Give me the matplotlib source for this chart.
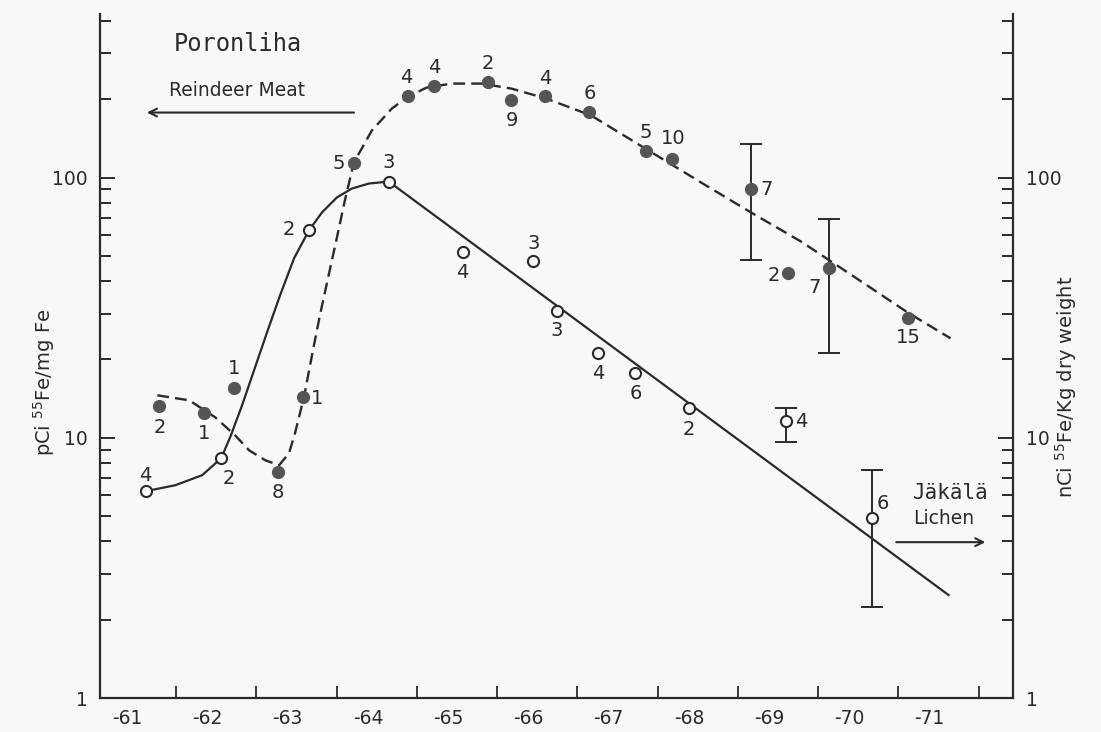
import matplotlib
matplotlib.use("Agg")
import matplotlib.pyplot as plt
from matplotlib.ticker import LogLocator, NullFormatter, FixedLocator

# ---------------- data ----------------
year_labels = ['-61', '-62', '-63', '-64', '-65', '-66', '-67', '-68', '-69', '-70', '-71']
year_label_pos = [61.39, 62.39, 63.39, 64.39, 65.39, 66.39, 67.39, 68.39, 69.39, 70.39, 71.39]
year_ticks = [62, 63, 64, 65, 66, 67, 68, 69, 70, 71, 72]

# Reindeer meat (filled circles), pCi 55Fe / mg Fe
meat_x = [61.79, 62.35, 62.72, 63.27, 63.58, 64.21, 64.89, 65.21, 65.89, 66.17,
          66.60, 67.14, 67.85, 68.18, 69.17, 69.63, 70.14, 71.12]
meat_y = [13.3, 12.4, 15.6, 7.4, 14.3, 114, 205, 224, 232, 198,
          205, 179, 127, 118, 90.7, 42.8, 44.8, 28.8]
meat_n = ['2', '1', '1', '8', '1', '5', '4', '4', '2', '9',
          '4', '6', '5', '10', '7', '2', '7', '15']
meat_err_x = [69.17, 70.14]
meat_err_mid = [90.7, 44.8]
meat_err_lo = [48.0, 21.1]
meat_err_hi = [135.0, 69.0]

# Reindeer meat fitted curve (dashed)
meat_curve_x = [61.764, 62.162, 62.485, 62.734, 62.908, 63.108, 63.282, 63.406, 63.480,
                63.592, 63.692, 63.791, 63.891, 63.990, 64.102, 64.214, 64.438, 64.687,
                64.886, 65.122, 65.433, 65.806, 66.179, 66.614, 67.174, 67.846, 68.542,
                69.164, 69.786, 70.408, 71.117, 71.652]
meat_curve_y = [14.56, 13.93, 11.99, 10.22, 8.95, 8.20, 7.84, 8.72, 10.40,
                14.31, 20.74, 29.53, 40.96, 56.30, 81.61, 114.2, 151.5, 184.0,
                204.6, 221.6, 229.6, 229.6, 219.6, 201.1, 173.0, 129.3, 95.7,
                73.4, 56.8, 42.4, 30.3, 24.1]

# Lichen (open circles), nCi 55Fe / kg dry weight
lichen_x = [61.62, 62.56, 63.65, 64.65, 65.57, 66.45, 66.74, 67.26, 67.72, 68.39, 69.60, 70.67]
lichen_y = [6.23, 8.34, 62.9, 96.5, 51.9, 47.7, 30.6, 21.1, 17.7, 13.0, 11.6, 4.91]
lichen_n = ['4', '2', '2', '3', '4', '3', '3', '4', '6', '2', '4', '6']
lichen_err_x = [69.60, 70.67]
lichen_err_mid = [11.6, 4.91]
lichen_err_lo = [9.67, 2.23]
lichen_err_hi = [13.0, 7.5]

# Lichen fitted curve (solid)
lichen_curve_x = [61.616, 61.988, 62.323, 62.560, 62.672, 62.821, 62.970, 63.132, 63.294,
                  63.468, 63.654, 63.816, 64.002, 64.189, 64.400, 64.649, 71.627]
lichen_curve_y = [6.23, 6.57, 7.18, 8.34, 10.04, 13.33, 18.16, 25.41, 35.24,
                  48.88, 62.58, 73.38, 83.8, 90.7, 94.8, 96.5, 2.486]

# ---------------- styles / positions ----------------
meat_label_offsets = [(0, -15.8), (0, -14.4), (0, 13.7), (0, -15.1), (10, -0.7), (-10.8, -0.7),
                      (-1.4, 13.7), (0, 13.7), (0, 13.7), (0.7, -14.4), (0, 13), (0.7, 13),
                      (0, 13), (0.7, 14.4), (10.8, -0.7), (-10.8, -1.4), (-10.8, -13.7), (0, -13.7)]
lichen_label_offsets = [(-0.7, 11.5), (5.8, -14.4), (-14.4, 0), (0, 13.7), (0, -15.1), (0, 13),
                        (0, -13.7), (0, -14.4), (0.7, -14.4), (0, -15.1), (10.8, -0.7), (7.9, 10.8)]

INK = '#2a2a2a'
FILL = '#555555'
BG = '#f8f8f6'
W, H = 1101, 732

fig = plt.figure(figsize=(W / 100, H / 100), dpi=100, facecolor=BG)
ax = fig.add_axes([100 / W, 34 / H, (1013 - 100) / W, (718 - 34) / H], facecolor=BG)

ax.set_yscale('log')
ax.set_ylim(1, 425)
ax.set_xlim(61.05, 72.43)

# curves
ax.plot(meat_curve_x, meat_curve_y, color=INK, lw=1.7, dashes=(5, 2.6), zorder=2)
ax.plot(lichen_curve_x, lichen_curve_y, color=INK, lw=1.6, zorder=2)

# error bars
ax.errorbar(meat_err_x, meat_err_mid,
            yerr=[[m - l for m, l in zip(meat_err_mid, meat_err_lo)],
                  [h - m for m, h in zip(meat_err_mid, meat_err_hi)]],
            fmt='none', ecolor=INK, elinewidth=1.4, capsize=8, capthick=1.4, zorder=2)
ax.errorbar(lichen_err_x, lichen_err_mid,
            yerr=[[m - l for m, l in zip(lichen_err_mid, lichen_err_lo)],
                  [h - m for m, h in zip(lichen_err_mid, lichen_err_hi)]],
            fmt='none', ecolor=INK, elinewidth=1.4, capsize=8, capthick=1.4, zorder=2)

# points
ax.plot(meat_x, meat_y, 'o', ms=8.5, mfc=FILL, mec=FILL, zorder=3, linestyle='none')
ax.plot(lichen_x, lichen_y, 'o', ms=8, mfc=BG, mec=INK, mew=1.5, zorder=3, linestyle='none')

# point labels
for x, y, n, off in zip(meat_x, meat_y, meat_n, meat_label_offsets):
    ax.annotate(n, (x, y), xytext=off, textcoords='offset points', ha='center', va='center',
                fontsize=14, color=INK)
for x, y, n, off in zip(lichen_x, lichen_y, lichen_n, lichen_label_offsets):
    ax.annotate(n, (x, y), xytext=off, textcoords='offset points', ha='center', va='center',
                fontsize=14, color=INK)

# annotations
ax.text(62.77, 327, 'Poronliha', family='DejaVu Sans Mono', fontsize=17, ha='center', va='center', color=INK)
ax.text(62.76, 216, 'Reindeer Meat', fontsize=13.5, ha='center', va='center', color=INK)
ax.annotate('', xy=(61.60, 177.7), xytext=(64.25, 177.7),
            arrowprops=dict(arrowstyle='->', color=INK, lw=1.5, mutation_scale=14))
ax.text(71.65, 6.12, 'Jäkälä', family='DejaVu Sans Mono', fontsize=15, ha='center', va='center', color=INK)
ax.text(71.56, 4.91, 'Lichen', fontsize=13.5, ha='center', va='center', color=INK)
ax.annotate('', xy=(72.12, 3.97), xytext=(70.94, 3.97),
            arrowprops=dict(arrowstyle='->', color=INK, lw=1.5, mutation_scale=14))

# axes styling
for s in ['left', 'right', 'bottom']:
    ax.spines[s].set_color(INK)
    ax.spines[s].set_linewidth(1.6)
ax.spines['top'].set_visible(False)

ax.yaxis.set_major_locator(FixedLocator([1, 10, 100]))
ax.yaxis.set_minor_locator(LogLocator(base=10, subs=[2, 3, 4, 5, 6, 7, 8, 9]))
ax.yaxis.set_minor_formatter(NullFormatter())
ax.set_yticklabels(['1', '10', '100'])
ax.tick_params(axis='y', which='both', direction='in', left=True, right=True,
               labelleft=True, labelright=True, colors=INK, labelsize=13.5, pad=9)
ax.tick_params(axis='y', which='major', length=11, width=1.4)
ax.tick_params(axis='y', which='minor', length=8, width=1.4)

ax.set_xticks(year_ticks)
ax.set_xticklabels([''] * len(year_ticks))
ax.set_xticks(year_label_pos, minor=True)
ax.set_xticklabels(year_labels, minor=True)
ax.tick_params(axis='x', which='major', direction='in', length=9, width=1.3, colors=INK)
ax.tick_params(axis='x', which='minor', length=0, labelsize=13.5, pad=8, colors=INK)

fig.text(44 / W, 1 - 382 / H, r'pCi $^{55}$Fe/mg Fe', rotation=90, ha='center', va='center',
         fontsize=14, color=INK)
fig.text(1066 / W, 1 - 387 / H, r'nCi $^{55}$Fe/Kg dry weight', rotation=90, ha='center', va='center',
         fontsize=14, color=INK)

fig.savefig('out.png', dpi=100, facecolor=BG)
